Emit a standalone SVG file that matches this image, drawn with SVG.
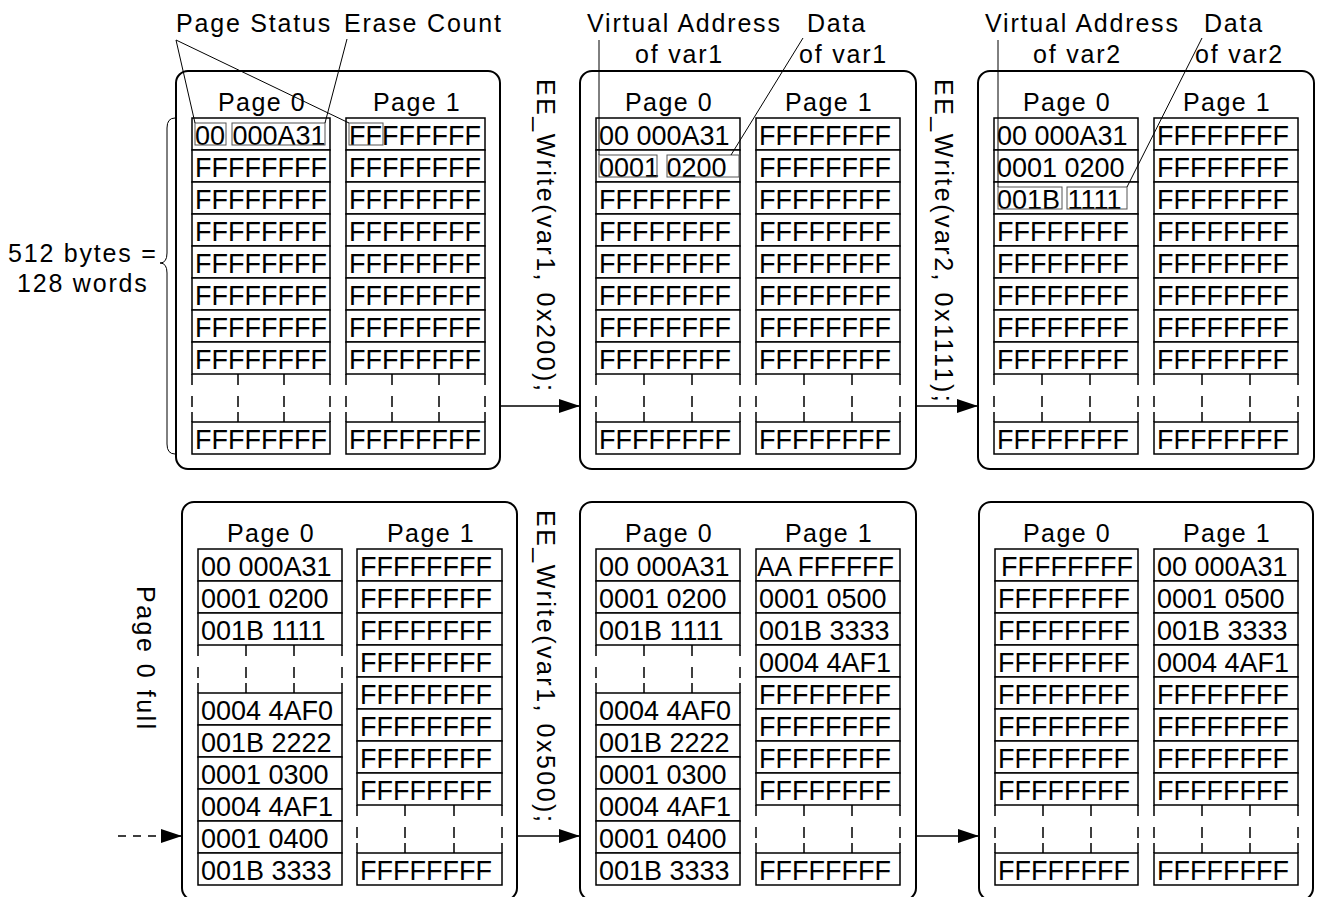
<svg xmlns="http://www.w3.org/2000/svg" width="1321" height="897" viewBox="0 0 1321 897">
<style>
.bg{fill:#fff}
.panel{fill:none;stroke:#000;stroke-width:2}
.cell{fill:#fff;stroke:#000;stroke-width:1.5}
.gap{fill:none;stroke:#000;stroke-width:1.5}
.ct{font-family:"Liberation Sans",Arial,sans-serif;font-size:27px;fill:#000}
.lb{font-family:"Liberation Sans",Arial,sans-serif;font-size:25px;letter-spacing:1.8px;fill:#000}
.vt{font-family:"Liberation Sans",Arial,sans-serif;font-size:25px;letter-spacing:2.5px;fill:#000}
.pg{font-family:"Liberation Sans",Arial,sans-serif;font-size:25px;letter-spacing:1.5px;fill:#000;text-anchor:middle}
.hl{fill:none;stroke:#555;stroke-width:1}
.lead{fill:none;stroke:#000;stroke-width:1}
.conn{fill:none;stroke:#000;stroke-width:1.5}
.dconn{fill:none;stroke:#000;stroke-width:1.5;stroke-dasharray:8 7}
</style>
<defs>
<marker id="ah" markerUnits="userSpaceOnUse" markerWidth="22" markerHeight="14" refX="21" refY="7" orient="auto">
<path d="M0,0 L21,7 L0,14 z" fill="#000"/>
</marker>
</defs>
<rect class="bg" x="0" y="0" width="1321" height="897"/>

<!-- free labels -->
<g id="labels">
<text class="lb" x="176" y="32">Page Status</text>
<text class="lb" x="344" y="32">Erase Count</text>
<text class="lb" x="587" y="32">Virtual Address</text>
<text class="lb" x="807" y="32">Data</text>
<text class="lb" x="635" y="63">of var1</text>
<text class="lb" x="799" y="63">of var1</text>
<text class="lb" x="985" y="32">Virtual Address</text>
<text class="lb" x="1204" y="32">Data</text>
<text class="lb" x="1033" y="63">of var2</text>
<text class="lb" x="1195" y="63">of var2</text>
<text class="lb" x="8" y="262">512 bytes =</text>
<text class="lb" x="17" y="292">128 words</text>
<path class="lead" d="M175,118 Q167,118 167,128 L167,253 Q167,263 160,263 Q167,263 167,273 L167,444 Q167,454 175,454"/>
<text class="vt" transform="translate(537,79) rotate(90)">EE_Write(var1, 0x200);</text>
<text class="vt" transform="translate(935,79) rotate(90)">EE_Write(var2, 0x1111);</text>
<text class="vt" transform="translate(537,510) rotate(90)">EE_Write(var1, 0x500);</text>
<text class="vt" transform="translate(137,586) rotate(90)">Page 0 full</text>
</g>

<!-- Top-left panel -->
<g id="panel-tl">
<rect class="panel" x="176" y="71" width="324" height="398" rx="12"/>
<text class="pg" x="262" y="111">Page 0</text>
<text class="pg" x="417" y="111">Page 1</text>
<g>
<rect class="cell" x="192" y="118" width="138" height="32"/><text class="ct" x="195" y="145">00 000A31</text>
<rect class="cell" x="192" y="150" width="138" height="32"/><text class="ct" x="195" y="177">FFFFFFFF</text>
<rect class="cell" x="192" y="182" width="138" height="32"/><text class="ct" x="195" y="209">FFFFFFFF</text>
<rect class="cell" x="192" y="214" width="138" height="32"/><text class="ct" x="195" y="241">FFFFFFFF</text>
<rect class="cell" x="192" y="246" width="138" height="32"/><text class="ct" x="195" y="273">FFFFFFFF</text>
<rect class="cell" x="192" y="278" width="138" height="32"/><text class="ct" x="195" y="305">FFFFFFFF</text>
<rect class="cell" x="192" y="310" width="138" height="32"/><text class="ct" x="195" y="337">FFFFFFFF</text>
<rect class="cell" x="192" y="342" width="138" height="32"/><text class="ct" x="195" y="369">FFFFFFFF</text>
<path class="gap" d="M192,374v11m0,11v11m0,5v10M238,374v11m0,11v11m0,5v10M284,374v11m0,11v11m0,5v10M330,374v11m0,11v11m0,5v10"/>
<rect class="cell" x="192" y="422" width="138" height="32"/><text class="ct" x="195" y="449">FFFFFFFF</text>
</g>
<g>
<rect class="cell" x="346" y="118" width="139" height="32"/><text class="ct" x="349" y="145">FFFFFFFF</text>
<rect class="cell" x="346" y="150" width="139" height="32"/><text class="ct" x="349" y="177">FFFFFFFF</text>
<rect class="cell" x="346" y="182" width="139" height="32"/><text class="ct" x="349" y="209">FFFFFFFF</text>
<rect class="cell" x="346" y="214" width="139" height="32"/><text class="ct" x="349" y="241">FFFFFFFF</text>
<rect class="cell" x="346" y="246" width="139" height="32"/><text class="ct" x="349" y="273">FFFFFFFF</text>
<rect class="cell" x="346" y="278" width="139" height="32"/><text class="ct" x="349" y="305">FFFFFFFF</text>
<rect class="cell" x="346" y="310" width="139" height="32"/><text class="ct" x="349" y="337">FFFFFFFF</text>
<rect class="cell" x="346" y="342" width="139" height="32"/><text class="ct" x="349" y="369">FFFFFFFF</text>
<path class="gap" d="M346,374v11m0,11v11m0,5v10M392,374v11m0,11v11m0,5v10M439,374v11m0,11v11m0,5v10M485,374v11m0,11v11m0,5v10"/>
<rect class="cell" x="346" y="422" width="139" height="32"/><text class="ct" x="349" y="449">FFFFFFFF</text>
</g>
<rect class="hl" x="195" y="123" width="31" height="22"/>
<rect class="hl" x="232" y="123" width="93" height="22"/>
<rect class="hl" x="349" y="123" width="34" height="22"/>
</g>

<!-- Top-middle panel -->
<g id="panel-tm">
<rect class="panel" x="580" y="71" width="336" height="398" rx="12"/>
<text class="pg" x="669" y="111">Page 0</text>
<text class="pg" x="829" y="111">Page 1</text>
<g>
<rect class="cell" x="596" y="118" width="144" height="32"/><text class="ct" x="599" y="145">00 000A31</text>
<rect class="cell" x="596" y="150" width="144" height="32"/><text class="ct" x="599" y="177">0001 0200</text>
<rect class="cell" x="596" y="182" width="144" height="32"/><text class="ct" x="599" y="209">FFFFFFFF</text>
<rect class="cell" x="596" y="214" width="144" height="32"/><text class="ct" x="599" y="241">FFFFFFFF</text>
<rect class="cell" x="596" y="246" width="144" height="32"/><text class="ct" x="599" y="273">FFFFFFFF</text>
<rect class="cell" x="596" y="278" width="144" height="32"/><text class="ct" x="599" y="305">FFFFFFFF</text>
<rect class="cell" x="596" y="310" width="144" height="32"/><text class="ct" x="599" y="337">FFFFFFFF</text>
<rect class="cell" x="596" y="342" width="144" height="32"/><text class="ct" x="599" y="369">FFFFFFFF</text>
<path class="gap" d="M596,374v11m0,11v11m0,5v10M644,374v11m0,11v11m0,5v10M692,374v11m0,11v11m0,5v10M740,374v11m0,11v11m0,5v10"/>
<rect class="cell" x="596" y="422" width="144" height="32"/><text class="ct" x="599" y="449">FFFFFFFF</text>
</g>
<g>
<rect class="cell" x="756" y="118" width="144" height="32"/><text class="ct" x="759" y="145">FFFFFFFF</text>
<rect class="cell" x="756" y="150" width="144" height="32"/><text class="ct" x="759" y="177">FFFFFFFF</text>
<rect class="cell" x="756" y="182" width="144" height="32"/><text class="ct" x="759" y="209">FFFFFFFF</text>
<rect class="cell" x="756" y="214" width="144" height="32"/><text class="ct" x="759" y="241">FFFFFFFF</text>
<rect class="cell" x="756" y="246" width="144" height="32"/><text class="ct" x="759" y="273">FFFFFFFF</text>
<rect class="cell" x="756" y="278" width="144" height="32"/><text class="ct" x="759" y="305">FFFFFFFF</text>
<rect class="cell" x="756" y="310" width="144" height="32"/><text class="ct" x="759" y="337">FFFFFFFF</text>
<rect class="cell" x="756" y="342" width="144" height="32"/><text class="ct" x="759" y="369">FFFFFFFF</text>
<path class="gap" d="M756,374v11m0,11v11m0,5v10M804,374v11m0,11v11m0,5v10M852,374v11m0,11v11m0,5v10M900,374v11m0,11v11m0,5v10"/>
<rect class="cell" x="756" y="422" width="144" height="32"/><text class="ct" x="759" y="449">FFFFFFFF</text>
</g>
<rect class="hl" x="599" y="155" width="58" height="22"/>
<rect class="hl" x="667" y="155" width="72" height="22"/>
</g>

<!-- Top-right panel -->
<g id="panel-tr">
<rect class="panel" x="978" y="71" width="336" height="398" rx="12"/>
<text class="pg" x="1067" y="111">Page 0</text>
<text class="pg" x="1227" y="111">Page 1</text>
<g>
<rect class="cell" x="994" y="118" width="144" height="32"/><text class="ct" x="997" y="145">00 000A31</text>
<rect class="cell" x="994" y="150" width="144" height="32"/><text class="ct" x="997" y="177">0001 0200</text>
<rect class="cell" x="994" y="182" width="144" height="32"/><text class="ct" x="997" y="209">001B 1111</text>
<rect class="cell" x="994" y="214" width="144" height="32"/><text class="ct" x="997" y="241">FFFFFFFF</text>
<rect class="cell" x="994" y="246" width="144" height="32"/><text class="ct" x="997" y="273">FFFFFFFF</text>
<rect class="cell" x="994" y="278" width="144" height="32"/><text class="ct" x="997" y="305">FFFFFFFF</text>
<rect class="cell" x="994" y="310" width="144" height="32"/><text class="ct" x="997" y="337">FFFFFFFF</text>
<rect class="cell" x="994" y="342" width="144" height="32"/><text class="ct" x="997" y="369">FFFFFFFF</text>
<path class="gap" d="M994,374v11m0,11v11m0,5v10M1042,374v11m0,11v11m0,5v10M1090,374v11m0,11v11m0,5v10M1138,374v11m0,11v11m0,5v10"/>
<rect class="cell" x="994" y="422" width="144" height="32"/><text class="ct" x="997" y="449">FFFFFFFF</text>
</g>
<g>
<rect class="cell" x="1154" y="118" width="144" height="32"/><text class="ct" x="1157" y="145">FFFFFFFF</text>
<rect class="cell" x="1154" y="150" width="144" height="32"/><text class="ct" x="1157" y="177">FFFFFFFF</text>
<rect class="cell" x="1154" y="182" width="144" height="32"/><text class="ct" x="1157" y="209">FFFFFFFF</text>
<rect class="cell" x="1154" y="214" width="144" height="32"/><text class="ct" x="1157" y="241">FFFFFFFF</text>
<rect class="cell" x="1154" y="246" width="144" height="32"/><text class="ct" x="1157" y="273">FFFFFFFF</text>
<rect class="cell" x="1154" y="278" width="144" height="32"/><text class="ct" x="1157" y="305">FFFFFFFF</text>
<rect class="cell" x="1154" y="310" width="144" height="32"/><text class="ct" x="1157" y="337">FFFFFFFF</text>
<rect class="cell" x="1154" y="342" width="144" height="32"/><text class="ct" x="1157" y="369">FFFFFFFF</text>
<path class="gap" d="M1154,374v11m0,11v11m0,5v10M1202,374v11m0,11v11m0,5v10M1250,374v11m0,11v11m0,5v10M1298,374v11m0,11v11m0,5v10"/>
<rect class="cell" x="1154" y="422" width="144" height="32"/><text class="ct" x="1157" y="449">FFFFFFFF</text>
</g>
<rect class="hl" x="998" y="187" width="64" height="22"/>
<rect class="hl" x="1067" y="187" width="60" height="22"/>
</g>

<!-- Bottom-left panel -->
<g id="panel-bl">
<rect class="panel" x="182" y="502" width="335" height="398" rx="12"/>
<text class="pg" x="271" y="542">Page 0</text>
<text class="pg" x="431" y="542">Page 1</text>
<g>
<rect class="cell" x="198" y="549" width="144" height="32"/><text class="ct" x="201" y="576">00 000A31</text>
<rect class="cell" x="198" y="581" width="144" height="32"/><text class="ct" x="201" y="608">0001 0200</text>
<rect class="cell" x="198" y="613" width="144" height="32"/><text class="ct" x="201" y="640">001B 1111</text>
<path class="gap" d="M198,645v11m0,11v11m0,5v10M246,645v11m0,11v11m0,5v10M294,645v11m0,11v11m0,5v10M342,645v11m0,11v11m0,5v10"/>
<rect class="cell" x="198" y="693" width="144" height="32"/><text class="ct" x="201" y="720">0004 4AF0</text>
<rect class="cell" x="198" y="725" width="144" height="32"/><text class="ct" x="201" y="752">001B 2222</text>
<rect class="cell" x="198" y="757" width="144" height="32"/><text class="ct" x="201" y="784">0001 0300</text>
<rect class="cell" x="198" y="789" width="144" height="32"/><text class="ct" x="201" y="816">0004 4AF1</text>
<rect class="cell" x="198" y="821" width="144" height="32"/><text class="ct" x="201" y="848">0001 0400</text>
<rect class="cell" x="198" y="853" width="144" height="32"/><text class="ct" x="201" y="880">001B 3333</text>
</g>
<g>
<rect class="cell" x="357" y="549" width="145" height="32"/><text class="ct" x="360" y="576">FFFFFFFF</text>
<rect class="cell" x="357" y="581" width="145" height="32"/><text class="ct" x="360" y="608">FFFFFFFF</text>
<rect class="cell" x="357" y="613" width="145" height="32"/><text class="ct" x="360" y="640">FFFFFFFF</text>
<rect class="cell" x="357" y="645" width="145" height="32"/><text class="ct" x="360" y="672">FFFFFFFF</text>
<rect class="cell" x="357" y="677" width="145" height="32"/><text class="ct" x="360" y="704">FFFFFFFF</text>
<rect class="cell" x="357" y="709" width="145" height="32"/><text class="ct" x="360" y="736">FFFFFFFF</text>
<rect class="cell" x="357" y="741" width="145" height="32"/><text class="ct" x="360" y="768">FFFFFFFF</text>
<rect class="cell" x="357" y="773" width="145" height="32"/><text class="ct" x="360" y="800">FFFFFFFF</text>
<path class="gap" d="M357,805v11m0,11v11m0,5v10M405,805v11m0,11v11m0,5v10M454,805v11m0,11v11m0,5v10M502,805v11m0,11v11m0,5v10"/>
<rect class="cell" x="357" y="853" width="145" height="32"/><text class="ct" x="360" y="880">FFFFFFFF</text>
</g>
</g>

<!-- Bottom-middle panel -->
<g id="panel-bm">
<rect class="panel" x="580" y="502" width="336" height="398" rx="12"/>
<text class="pg" x="669" y="542">Page 0</text>
<text class="pg" x="829" y="542">Page 1</text>
<g>
<rect class="cell" x="596" y="549" width="144" height="32"/><text class="ct" x="599" y="576">00 000A31</text>
<rect class="cell" x="596" y="581" width="144" height="32"/><text class="ct" x="599" y="608">0001 0200</text>
<rect class="cell" x="596" y="613" width="144" height="32"/><text class="ct" x="599" y="640">001B 1111</text>
<path class="gap" d="M596,645v11m0,11v11m0,5v10M644,645v11m0,11v11m0,5v10M692,645v11m0,11v11m0,5v10M740,645v11m0,11v11m0,5v10"/>
<rect class="cell" x="596" y="693" width="144" height="32"/><text class="ct" x="599" y="720">0004 4AF0</text>
<rect class="cell" x="596" y="725" width="144" height="32"/><text class="ct" x="599" y="752">001B 2222</text>
<rect class="cell" x="596" y="757" width="144" height="32"/><text class="ct" x="599" y="784">0001 0300</text>
<rect class="cell" x="596" y="789" width="144" height="32"/><text class="ct" x="599" y="816">0004 4AF1</text>
<rect class="cell" x="596" y="821" width="144" height="32"/><text class="ct" x="599" y="848">0001 0400</text>
<rect class="cell" x="596" y="853" width="144" height="32"/><text class="ct" x="599" y="880">001B 3333</text>
</g>
<g>
<rect class="cell" x="756" y="549" width="144" height="32"/><text class="ct" x="757" y="576" textLength="137" lengthAdjust="spacingAndGlyphs">AA FFFFFF</text>
<rect class="cell" x="756" y="581" width="144" height="32"/><text class="ct" x="759" y="608">0001 0500</text>
<rect class="cell" x="756" y="613" width="144" height="32"/><text class="ct" x="759" y="640">001B 3333</text>
<rect class="cell" x="756" y="645" width="144" height="32"/><text class="ct" x="759" y="672">0004 4AF1</text>
<rect class="cell" x="756" y="677" width="144" height="32"/><text class="ct" x="759" y="704">FFFFFFFF</text>
<rect class="cell" x="756" y="709" width="144" height="32"/><text class="ct" x="759" y="736">FFFFFFFF</text>
<rect class="cell" x="756" y="741" width="144" height="32"/><text class="ct" x="759" y="768">FFFFFFFF</text>
<rect class="cell" x="756" y="773" width="144" height="32"/><text class="ct" x="759" y="800">FFFFFFFF</text>
<path class="gap" d="M756,805v11m0,11v11m0,5v10M804,805v11m0,11v11m0,5v10M852,805v11m0,11v11m0,5v10M900,805v11m0,11v11m0,5v10"/>
<rect class="cell" x="756" y="853" width="144" height="32"/><text class="ct" x="759" y="880">FFFFFFFF</text>
</g>
</g>

<!-- Bottom-right panel -->
<g id="panel-br">
<rect class="panel" x="979" y="502" width="334" height="398" rx="12"/>
<text class="pg" x="1067" y="542">Page 0</text>
<text class="pg" x="1227" y="542">Page 1</text>
<g>
<rect class="cell" x="995" y="549" width="143" height="32"/><text class="ct" x="1001" y="576">FFFFFFFF</text>
<rect class="cell" x="995" y="581" width="143" height="32"/><text class="ct" x="998" y="608">FFFFFFFF</text>
<rect class="cell" x="995" y="613" width="143" height="32"/><text class="ct" x="998" y="640">FFFFFFFF</text>
<rect class="cell" x="995" y="645" width="143" height="32"/><text class="ct" x="998" y="672">FFFFFFFF</text>
<rect class="cell" x="995" y="677" width="143" height="32"/><text class="ct" x="998" y="704">FFFFFFFF</text>
<rect class="cell" x="995" y="709" width="143" height="32"/><text class="ct" x="998" y="736">FFFFFFFF</text>
<rect class="cell" x="995" y="741" width="143" height="32"/><text class="ct" x="998" y="768">FFFFFFFF</text>
<rect class="cell" x="995" y="773" width="143" height="32"/><text class="ct" x="998" y="800">FFFFFFFF</text>
<path class="gap" d="M995,805v11m0,11v11m0,5v10M1043,805v11m0,11v11m0,5v10M1091,805v11m0,11v11m0,5v10M1138,805v11m0,11v11m0,5v10"/>
<rect class="cell" x="995" y="853" width="143" height="32"/><text class="ct" x="998" y="880">FFFFFFFF</text>
</g>
<g>
<rect class="cell" x="1154" y="549" width="144" height="32"/><text class="ct" x="1157" y="576">00 000A31</text>
<rect class="cell" x="1154" y="581" width="144" height="32"/><text class="ct" x="1157" y="608">0001 0500</text>
<rect class="cell" x="1154" y="613" width="144" height="32"/><text class="ct" x="1157" y="640">001B 3333</text>
<rect class="cell" x="1154" y="645" width="144" height="32"/><text class="ct" x="1157" y="672">0004 4AF1</text>
<rect class="cell" x="1154" y="677" width="144" height="32"/><text class="ct" x="1157" y="704">FFFFFFFF</text>
<rect class="cell" x="1154" y="709" width="144" height="32"/><text class="ct" x="1157" y="736">FFFFFFFF</text>
<rect class="cell" x="1154" y="741" width="144" height="32"/><text class="ct" x="1157" y="768">FFFFFFFF</text>
<rect class="cell" x="1154" y="773" width="144" height="32"/><text class="ct" x="1157" y="800">FFFFFFFF</text>
<path class="gap" d="M1154,805v11m0,11v11m0,5v10M1202,805v11m0,11v11m0,5v10M1250,805v11m0,11v11m0,5v10M1298,805v11m0,11v11m0,5v10"/>
<rect class="cell" x="1154" y="853" width="144" height="32"/><text class="ct" x="1157" y="880">FFFFFFFF</text>
</g>
</g>

<!-- Connectors and leader lines -->
<g id="connectors">
<line class="conn" x1="500" y1="406" x2="580" y2="406" marker-end="url(#ah)"/>
<line class="conn" x1="916" y1="406" x2="978" y2="406" marker-end="url(#ah)"/>
<line class="dconn" x1="118" y1="836" x2="182" y2="836" marker-end="url(#ah)"/>
<line class="conn" x1="517" y1="836" x2="580" y2="836" marker-end="url(#ah)"/>
<line class="conn" x1="916" y1="836" x2="979" y2="836" marker-end="url(#ah)"/>
<line class="lead" x1="176" y1="40" x2="195" y2="123"/>
<line class="lead" x1="176" y1="40" x2="349" y2="123"/>
<line class="lead" x1="347" y1="39" x2="325" y2="123"/>
<line class="lead" x1="599" y1="40" x2="599" y2="155"/>
<line class="lead" x1="803" y1="38" x2="731" y2="155"/>
<line class="lead" x1="998" y1="40" x2="998" y2="187"/>
<line class="lead" x1="1202" y1="38" x2="1127" y2="187"/>
</g>
</svg>
